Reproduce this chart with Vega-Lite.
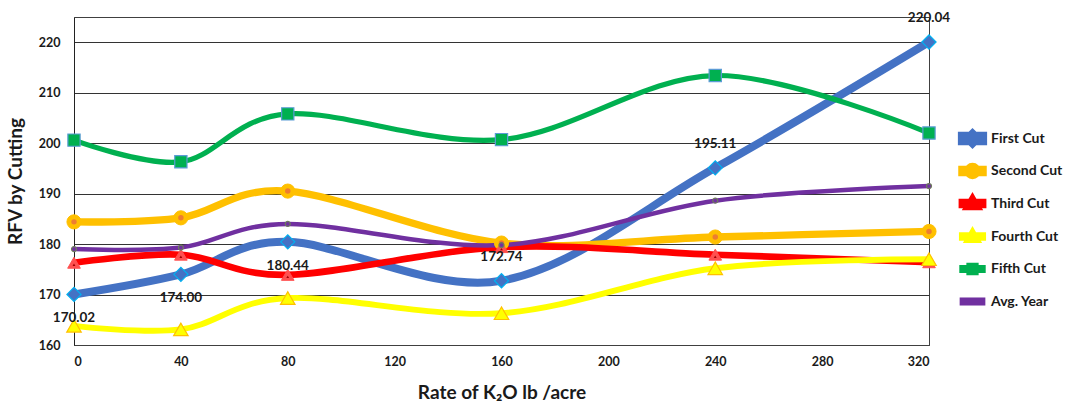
{
  "$schema": "https://vega.github.io/schema/vega-lite/v6.json",
  "autosize": "none",
  "width": 855,
  "height": 328,
  "padding": {"left": 74, "top": 17, "right": 147, "bottom": 62},
  "background": "white",
  "config": {
    "font": "Lato",
    "view": {"stroke": "#404040", "strokeWidth": 1}
  },
  "data": {
    "values": [
      {"rate": 0, "series": "First Cut", "rfv": 170.02},
      {"rate": 40, "series": "First Cut", "rfv": 174.00},
      {"rate": 80, "series": "First Cut", "rfv": 180.44},
      {"rate": 160, "series": "First Cut", "rfv": 172.74},
      {"rate": 240, "series": "First Cut", "rfv": 195.11},
      {"rate": 320, "series": "First Cut", "rfv": 220.04},
      {"rate": 0, "series": "Second Cut", "rfv": 184.4},
      {"rate": 40, "series": "Second Cut", "rfv": 185.2},
      {"rate": 80, "series": "Second Cut", "rfv": 190.5},
      {"rate": 160, "series": "Second Cut", "rfv": 180.2},
      {"rate": 240, "series": "Second Cut", "rfv": 181.4},
      {"rate": 320, "series": "Second Cut", "rfv": 182.5},
      {"rate": 0, "series": "Third Cut", "rfv": 176.3},
      {"rate": 40, "series": "Third Cut", "rfv": 177.9},
      {"rate": 80, "series": "Third Cut", "rfv": 173.9},
      {"rate": 160, "series": "Third Cut", "rfv": 179.4},
      {"rate": 240, "series": "Third Cut", "rfv": 177.9},
      {"rate": 320, "series": "Third Cut", "rfv": 176.4},
      {"rate": 0, "series": "Fourth Cut", "rfv": 163.8},
      {"rate": 40, "series": "Fourth Cut", "rfv": 163.1},
      {"rate": 80, "series": "Fourth Cut", "rfv": 169.3},
      {"rate": 160, "series": "Fourth Cut", "rfv": 166.3},
      {"rate": 240, "series": "Fourth Cut", "rfv": 175.2},
      {"rate": 320, "series": "Fourth Cut", "rfv": 177.0},
      {"rate": 0, "series": "Fifth Cut", "rfv": 200.6},
      {"rate": 40, "series": "Fifth Cut", "rfv": 196.3},
      {"rate": 80, "series": "Fifth Cut", "rfv": 205.8},
      {"rate": 160, "series": "Fifth Cut", "rfv": 200.7},
      {"rate": 240, "series": "Fifth Cut", "rfv": 213.4},
      {"rate": 320, "series": "Fifth Cut", "rfv": 202.0},
      {"rate": 0, "series": "Avg. Year", "rfv": 179.0},
      {"rate": 40, "series": "Avg. Year", "rfv": 179.3},
      {"rate": 80, "series": "Avg. Year", "rfv": 184.0},
      {"rate": 160, "series": "Avg. Year", "rfv": 179.8},
      {"rate": 240, "series": "Avg. Year", "rfv": 188.6},
      {"rate": 320, "series": "Avg. Year", "rfv": 191.5}
    ]
  },
  "encoding": {
    "x": {
      "field": "rate", "type": "quantitative",
      "scale": {"domain": [0, 320], "nice": false},
      "axis": {
        "values": [0, 40, 80, 120, 160, 200, 240, 280, 320],
        "title": "Rate of K₂O lb /acre",
        "titleFont": "Lato", "titleFontSize": 19, "titleFontWeight": "bold", "titleColor": "#1a1a1a",
        "titlePadding": 16,
        "labelFont": "Lato", "labelFontSize": 12.5, "labelFontWeight": "bold", "labelColor": "#1a1a1a",
        "labelPadding": 10,
        "ticks": false, "grid": false,
        "domainColor": "#404040"
      }
    },
    "y": {
      "field": "rfv", "type": "quantitative",
      "scale": {"domain": [160, 225], "nice": false, "zero": false},
      "axis": {
        "values": [160, 170, 180, 190, 200, 210, 220],
        "title": "RFV by Cutting",
        "titleFont": "Lato", "titleFontSize": 19, "titleFontWeight": "bold", "titleColor": "#1a1a1a",
        "titlePadding": 13,
        "labelFont": "Lato", "labelFontSize": 12.5, "labelFontWeight": "bold", "labelColor": "#1a1a1a",
        "labelPadding": 14,
        "ticks": false,
        "grid": true, "gridColor": "#333333", "gridWidth": 1,
        "domainColor": "#222222"
      }
    }
  },
  "layer": [
    {
      "mark": {"type": "line", "interpolate": "cardinal"},
      "encoding": {
        "color": {
          "field": "series", "type": "nominal",
          "scale": {
            "domain": ["First Cut", "Second Cut", "Third Cut", "Fourth Cut", "Fifth Cut", "Avg. Year"],
            "range": ["#4472C4", "#FFC000", "#FF0000", "#FFFF00", "#00B050", "#7030A0"]
          },
          "legend": {
            "orient": "none",
            "legendX": 887,
            "legendY": 110,
            "title": null,
            "padding": 0,
            "gridAlign": "all",
            "symbolSize": 200,
            "symbolOffset": 0,
            "labelOffset": 7,
            "rowPadding": -13,
            "labelFont": "Lato", "labelFontSize": 14, "labelFontWeight": "bold", "labelColor": "#1a1a1a",
            "encoding": {
              "symbols": {
                "shape": {"value": {"expr": "datum.value === 'First Cut' ? 'M-1.5,-0.4H1.5V0.4H-1.5Z M0,-0.7L0.7,0L0,0.7L-0.7,0Z' : datum.value === 'Second Cut' ? 'M-1.5,-0.22H1.5V0.22H-1.5Z M-0.65,0A0.65,0.65 0 1,1 0.65,0A0.65,0.65 0 1,1 -0.65,0Z' : datum.value === 'Third Cut' ? 'M-1.5,-0.22H1.5V0.22H-1.5Z M0,-0.7L0.7,0.5L-0.7,0.5Z' : datum.value === 'Fourth Cut' ? 'M-1.5,-0.18H1.5V0.18H-1.5Z M0,-0.65L0.65,0.5L-0.65,0.5Z' : datum.value === 'Fifth Cut' ? 'M-1.5,-0.2H1.5V0.2H-1.5Z M-0.5,-0.5H0.5V0.5H-0.5Z' : 'M-1.5,-0.25H1.5V0.25H-1.5Z'"}},
                "fill": {"value": {"expr": "scale('color', datum.value)"}},
                "stroke": {"value": "transparent"},
                "strokeWidth": {"value": 0},
                "opacity": {"value": 1}
              }
            }
          }
        },
        "strokeWidth": {
          "field": "series", "type": "nominal",
          "scale": {
            "domain": ["First Cut", "Second Cut", "Third Cut", "Fourth Cut", "Fifth Cut", "Avg. Year"],
            "range": [8, 4.5, 4.5, 4.5, 4.5, 5]
          },
          "legend": null
        }
      }
    },
    {
      "transform": [{"filter": "datum.series === 'First Cut'"}],
      "mark": {"type": "point", "filled": true, "opacity": 1, "shape": "diamond", "size": 200, "fill": "#4472C4", "stroke": "#00B0F0", "strokeWidth": 1.2},
      "encoding": {}
    },
    {
      "transform": [{"filter": "datum.series === 'Second Cut'"}],
      "mark": {"type": "point", "filled": true, "opacity": 1, "shape": "circle", "size": 200, "fill": "#FFC000", "stroke": "#FFC000", "strokeWidth": 1},
      "encoding": {}
    },
    {
      "transform": [{"filter": "datum.series === 'Second Cut'"}],
      "mark": {"type": "point", "filled": true, "opacity": 1, "shape": "circle", "size": 30, "fill": "#ED7D31", "strokeWidth": 0},
      "encoding": {}
    },
    {
      "transform": [{"filter": "datum.series === 'Third Cut'"}],
      "mark": {"type": "point", "filled": true, "opacity": 1, "shape": "triangle-up", "size": 160, "fill": "#FF5050", "stroke": "#FF5050", "strokeWidth": 1},
      "encoding": {}
    },
    {
      "transform": [{"filter": "datum.series === 'Third Cut'"}],
      "mark": {"type": "point", "filled": true, "opacity": 1, "shape": "triangle-up", "size": 8, "fill": "#A00000", "strokeWidth": 0, "yOffset": 2},
      "encoding": {}
    },
    {
      "transform": [{"filter": "datum.series === 'Fourth Cut'"}],
      "mark": {"type": "point", "filled": true, "opacity": 1, "shape": "triangle-up", "size": 210, "fill": "#FFFF00", "stroke": "#FFC000", "strokeWidth": 1.2},
      "encoding": {}
    },
    {
      "transform": [{"filter": "datum.series === 'Fifth Cut'"}],
      "mark": {"type": "point", "filled": true, "opacity": 1, "shape": "square", "size": 150, "fill": "#00B050", "stroke": "#5B9BD5", "strokeWidth": 1.2},
      "encoding": {}
    },
    {
      "transform": [{"filter": "datum.series === 'Avg. Year'"}],
      "mark": {"type": "point", "filled": true, "opacity": 1, "shape": "circle", "size": 25, "fill": "#7030A0", "stroke": "#6E7B5E", "strokeWidth": 1.2},
      "encoding": {}
    },
    {
      "transform": [{"filter": "datum.series === 'First Cut' && datum.rate <= 80"}],
      "mark": {"type": "text", "dy": 24, "font": "Lato", "fontSize": 13.5, "fontWeight": "bold", "color": "#1a1a1a"},
      "encoding": {"text": {"field": "rfv", "type": "quantitative", "format": ".2f"}}
    },
    {
      "transform": [{"filter": "datum.series === 'First Cut' && datum.rate > 80"}],
      "mark": {"type": "text", "dy": -24, "font": "Lato", "fontSize": 13.5, "fontWeight": "bold", "color": "#1a1a1a"},
      "encoding": {"text": {"field": "rfv", "type": "quantitative", "format": ".2f"}}
    }
  ]
}
